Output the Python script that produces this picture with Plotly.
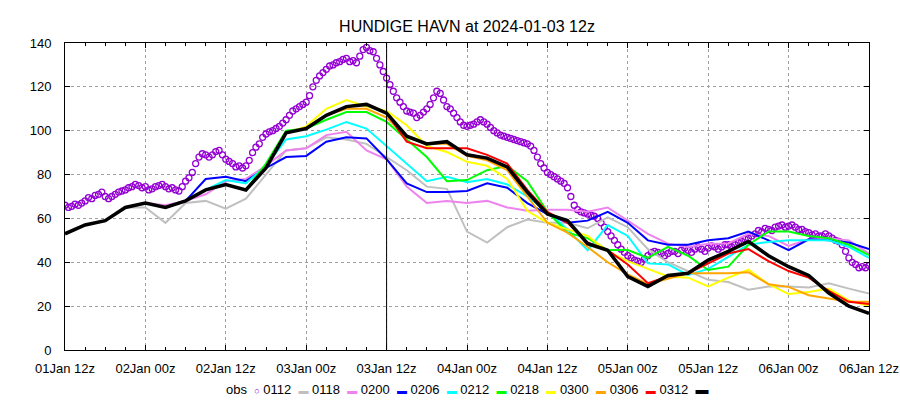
import pandas as pd
import plotly.graph_objects as go

# plot window and analysis time
T_START = "2024-01-01 12:00"
T_END = "2024-01-06 12:00"
ANALYSIS_TIME = "2024-01-03 12:00"

# observed water level, half-hourly from 01Jan 12z
obs = [66, 65, 65.5, 66.5, 66, 67, 68, 69.5, 69, 70.5, 71, 72, 70, 69, 70, 71, 72, 72.5,
       73, 74, 74.5, 75.5, 75, 74, 74.5, 73, 73.5, 74.5, 75, 75.5, 74.5, 73.5, 74, 73,
       72.5, 74.5, 77, 78.5, 81, 85, 88, 89.5, 89, 88, 89, 90.5, 91, 89, 87, 86, 85, 83.5,
       84, 83, 84, 86.5, 90, 92.5, 94, 97, 98.5, 99.5, 100, 101, 102, 103.5, 105, 107,
       109, 110, 111, 112, 113, 116, 120, 123, 125, 126.5, 128, 129.5, 130, 131, 131.5,
       132.5, 133, 131.5, 132, 131, 134, 137, 138, 136.5, 136, 133, 130, 127, 124, 121,
       118, 115, 113, 111, 109, 108.5, 108, 106, 107, 108.5, 110, 112, 115, 118, 117, 114,
       111, 110, 108, 106, 104, 102.5, 102, 102.5, 103, 104, 105, 104, 103, 101.5, 100, 99,
       98, 97.5, 97, 96.5, 96, 95.5, 95, 94.5, 94, 93, 91, 88, 85, 83, 81, 80, 79, 78, 77,
       76, 74, 70, 66, 64, 63, 62.5, 62, 61.5, 61, 60, 58, 56, 54, 52, 50, 48, 46, 44.5,
       43, 42, 41, 40.5, 40, 41.5, 43, 44.5, 45, 44.5, 44, 43, 44, 45, 45, 44, 45.5, 46.5,
       45.5, 44.5, 46, 47, 46, 45, 46.5, 47.5, 47, 46, 47, 48, 48, 47, 48, 49, 49.5, 50.5,
       51, 52, 53, 54.5, 54, 55.5, 55, 54.5, 56, 56.5, 57, 56, 56.5, 57, 56, 55, 55, 54,
       53.5, 52.5, 53, 52, 52, 53, 52, 51, 50, 49.5, 48, 45, 42, 40, 39, 37.5, 38, 37.5, 38.5]

# forecasts, 3-hourly values, each from its own start time
f0112 = [65, 65, 58, 67, 68, 64.5, 69, 80, 91, 92, 97, 96, 94, 88, 82, 74.5, 73.5, 54, 49,
         56, 59.5, 58, 58, 55.5, 60.5, 56, 46, 40, 36, 32, 31, 27.5, 29, 29, 28.5, 30.4, 28, 25.8]
f0118 = [65, 67, 66, 68, 71, 77, 78, 84, 91, 92, 98, 99.5, 91, 87, 74.5, 67, 68, 67, 68,
         65, 63.5, 64, 64, 63, 65, 59, 53, 48.5, 47, 48.5, 48.6, 53, 52, 47.5, 50.5, 51, 50, 44]
f0200 = [65, 68, 78, 79, 77, 83, 88, 88.5, 95, 97, 96.5, 87, 76, 72, 72, 72.5, 76, 74, 67,
         62, 58, 59, 63, 58, 50, 48, 48, 50, 51, 54, 50, 45.5, 50.5, 50, 49, 46]
f0206 = [73, 77.5, 76, 84, 96, 97.5, 100.5, 104, 101, 93, 85, 77, 79, 76.5, 78, 75.5, 70,
         63, 55, 45.5, 57, 52, 39.5, 39, 34.2, 37, 42.5, 48, 49.3, 50, 50, 50, 47, 42]
f0212 = [73, 85, 100, 101, 105, 108.5, 108.5, 104, 96, 88, 77, 77.5, 82, 84, 77, 63, 53.5,
         51, 45.6, 45.6, 42, 47, 43, 36.5, 38, 48, 54, 54, 52, 51, 48, 43.3]
f0218 = [99, 102, 110, 114, 111, 109, 102.5, 93, 90.3, 85.8, 84, 78, 63.5, 58, 55, 52, 45,
         40.5, 37, 33.5, 33, 29, 33, 36.6, 30, 25.5, 26.5, 28, 22.5, 20]
f0300 = [107, 110, 110, 106, 97, 94, 94, 88.5, 86.5, 82, 70, 58, 53.5, 47, 40, 34.5, 30,
         32.5, 35, 35, 35, 35.5, 30, 28.8, 25, 23.5, 22, 22]
f0306 = [112, 108, 95, 92, 92, 92, 89, 85, 73, 63, 58, 49, 45.5, 39, 30.5, 33.5, 35, 39.5,
         44, 46, 40.5, 36, 33, 27, 22, 21]
f0312 = [53, 57, 59, 65, 67, 65, 68, 73, 75.5, 73, 83, 99, 101, 107, 111, 112, 108, 97.5,
         94, 95, 89, 87.5, 83.5, 72, 62, 59, 48.5, 45.5, 33.5, 29, 34, 35, 41, 45, 49.5,
         43, 38, 34, 26, 20, 16.7]

OBS_COLOR = "#9400d3"
forecasts = [
    ("0112", "2024-01-01 21:00", f0112, "#c0c0c0", 2),
    ("0118", "2024-01-01 21:00", f0118, "#ee82ee", 2),
    ("0200", "2024-01-02 03:00", f0200, "#0000ff", 2),
    ("0206", "2024-01-02 09:00", f0206, "#00ffff", 2),
    ("0212", "2024-01-02 15:00", f0212, "#00ff00", 2),
    ("0218", "2024-01-02 21:00", f0218, "#ffff00", 2),
    ("0300", "2024-01-03 03:00", f0300, "#ffa500", 2),
    ("0306", "2024-01-03 09:00", f0306, "#ff0000", 2),
    ("0312", T_START, f0312, "#000000", 3.5),
]

fig = go.Figure()

fig.add_trace(go.Scatter(
    x=pd.date_range(T_START, periods=len(obs), freq="30min"), y=obs,
    mode="markers", name="obs",
    marker=dict(symbol="circle-open", size=6, color=OBS_COLOR, line=dict(width=1.3))))

for name, start, vals, color, width in forecasts:
    fig.add_trace(go.Scatter(
        x=pd.date_range(start, periods=len(vals), freq="3h"), y=vals,
        mode="lines", name=name, line=dict(color=color, width=width)))

fig.add_vline(x=pd.Timestamp(ANALYSIS_TIME), line=dict(color="black", width=1))

# gnuplot style key: label first, then its sample
nb = "\u00a0"
key = "obs" + nb * 2 + f"<span style='color:{OBS_COLOR};font-size:9px'>○</span>" + nb
for name, start, vals, color, width in forecasts:
    size = 13 if width > 3 else 10
    key += (name + nb * 2 + f"<span style='color:{color};font-size:{size}px'>▬</span>")
    if name != forecasts[-1][0]:
        key += nb
fig.add_annotation(text=key, xref="paper", yref="paper", x=0.5, y=-0.13,
                   xanchor="center", yanchor="middle", showarrow=False,
                   font=dict(size=13, color="black"))

fig.update_layout(
    width=900, height=400,
    margin=dict(l=65, r=31, t=43, b=50),
    paper_bgcolor="white", plot_bgcolor="white",
    font=dict(family="Liberation Sans", size=13, color="black"),
    title=dict(text="HUNDIGE HAVN at 2024-01-03 12z", x=0.5, xref="paper", xanchor="center",
               y=0.935, yref="container", yanchor="middle", font=dict(size=16)),
    showlegend=False,
)

fig.update_xaxes(
    range=[T_START, T_END], dtick=12 * 3600 * 1000, tickformat="%d%b %Hz",
    showline=True, linecolor="black", linewidth=1, mirror="ticks",
    ticks="inside", ticklen=5, tickcolor="black", ticklabelstandoff=6,
    showgrid=True, gridcolor="#a0a0a0", griddash="dot", gridwidth=1,
    minor=dict(dtick=3 * 3600 * 1000, ticks="inside", ticklen=3, tickcolor="black", showgrid=False),
    zeroline=False, automargin=False)

fig.update_yaxes(
    range=[0, 140], dtick=20,
    showline=True, linecolor="black", linewidth=1, mirror="ticks",
    ticks="inside", ticklen=5, tickcolor="black", ticklabelstandoff=10,
    showgrid=True, gridcolor="#a0a0a0", griddash="dot", gridwidth=1,
    zeroline=False, automargin=False)

# drop the page's default body margin so the figure sits at the window origin
fig.write_html("out.html", config={"displayModeBar": False},
               post_script="document.body.style.margin = '0';")
